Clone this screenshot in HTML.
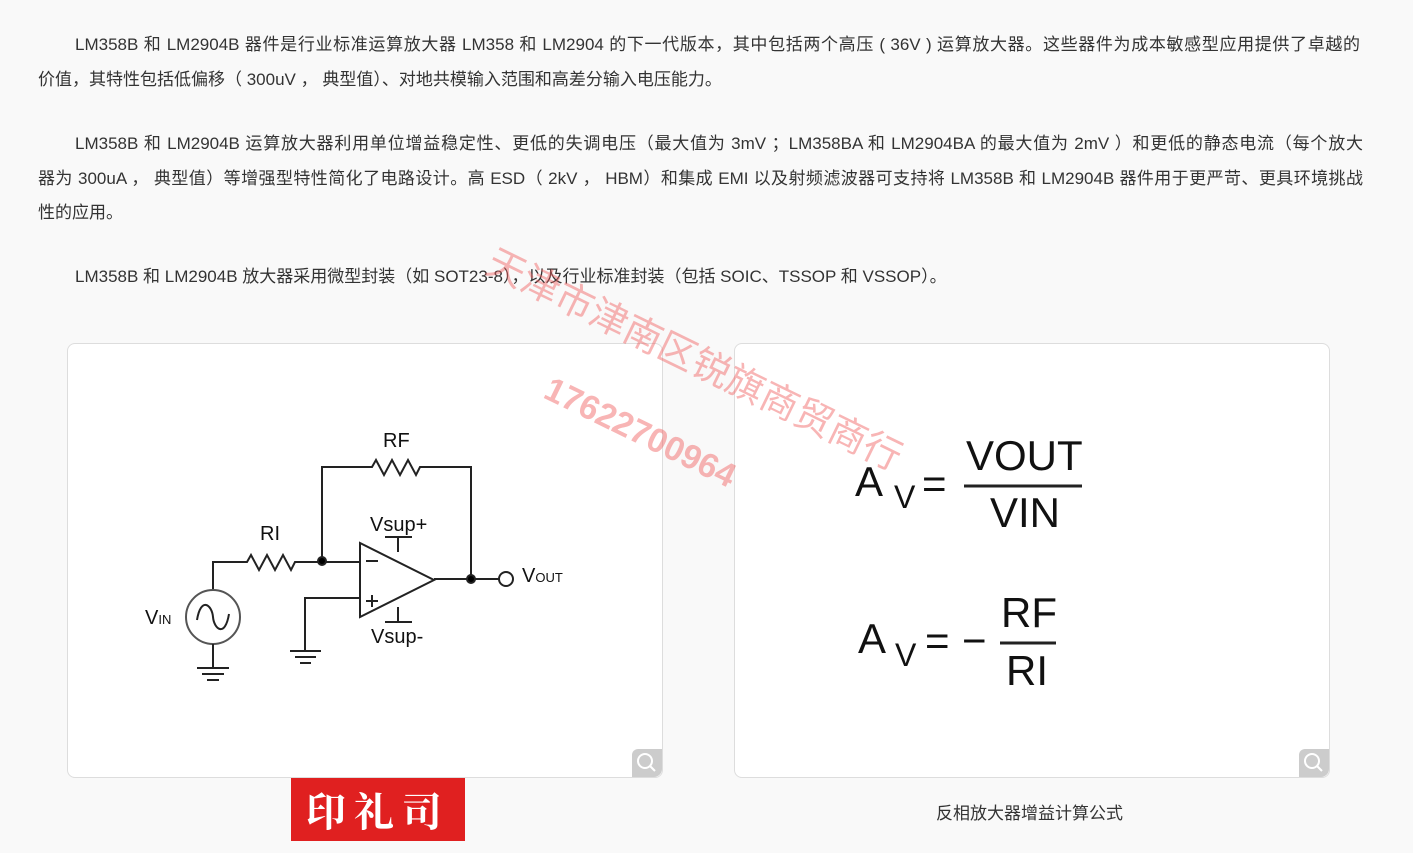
<!DOCTYPE html>
<html><head><meta charset="utf-8"><style>
body{margin:0;width:1413px;height:853px;background:#f9f9f9;position:relative;overflow:hidden;font-family:"Liberation Sans","Noto Sans CJK SC",sans-serif;color:#333}
.l{position:absolute;margin:0;font-size:17px;line-height:34px;white-space:nowrap}
.j{text-align:justify;text-align-last:justify}
.card{position:absolute;top:343px;height:433px;background:#fff;border:1px solid #ddd;border-radius:8px}
.mag{position:absolute;right:0;bottom:0;width:30px;height:28px;background:#ccc;border-radius:6px 0 8px 0}
.wm{position:absolute;color:rgba(240,90,90,0.45);font-size:38px;transform-origin:left top;white-space:nowrap}
</style></head><body>
<div class="l j" style="left:75px;width:1285px;top:28px">LM358B 和 LM2904B 器件是行业标准运算放大器 LM358 和 LM2904 的下一代版本，其中包括两个高压 ( 36V ) 运算放大器。这些器件为成本敏感型应用提供了卓越的</div>
<div class="l" style="left:38px;top:63px">价值，其特性包括低偏移（ 300uV ， 典型值）、对地共模输入范围和高差分输入电压能力。</div>
<div class="l j" style="left:75px;width:1288px;top:127px">LM358B 和 LM2904B 运算放大器利用单位增益稳定性、更低的失调电压（最大值为 3mV ；LM358BA 和 LM2904BA 的最大值为 2mV ）和更低的静态电流（每个放大</div>
<div class="l j" style="left:38px;width:1325px;top:162px">器为 300uA ， 典型值）等增强型特性简化了电路设计。高 ESD（ 2kV ， HBM）和集成 EMI 以及射频滤波器可支持将 LM358B 和 LM2904B 器件用于更严苛、更具环境挑战</div>
<div class="l" style="left:38px;top:196px">性的应用。</div>
<div class="l" style="left:75px;top:260px">LM358B 和 LM2904B 放大器采用微型封装（如 SOT23-8），以及行业标准封装（包括 SOIC、TSSOP 和 VSSOP）。</div>
<div class="card" style="left:67px;width:594px"><div class="mag"></div></div>
<div class="card" style="left:734px;width:594px"><div class="mag"></div></div>
<svg style="position:absolute;left:0;top:0" width="1413" height="853" font-family="Liberation Sans, sans-serif" fill="none" stroke="#222" stroke-width="2">
<polyline points="322,561 322,467 372,467 376,460 384,475 392,460 400,475 408,460 416,475 420,467 471,467 471,579"/>
<polyline points="213,590 213,562 247,562 251,555 259,570 267,555 275,570 283,555 291,570 295,562 360,562"/>
<polygon points="360,543 360,617 434,580"/>
<polyline points="360,598 305,598 305,650"/>
<line x1="290" y1="651" x2="321" y2="651"/><line x1="295" y1="657" x2="316" y2="657"/><line x1="300" y1="663" x2="311" y2="663"/>
<line x1="434" y1="579" x2="499" y2="579"/>
<circle cx="506" cy="579" r="7" fill="#fff"/>
<line x1="398" y1="537" x2="398" y2="552"/><line x1="385" y1="537" x2="412" y2="537"/>
<line x1="398" y1="607" x2="398" y2="622"/><line x1="385" y1="622" x2="412" y2="622"/>
<circle cx="213" cy="617" r="27" stroke="#555"/>
<path d="M197,620 C201,596 212,605 213,617 C214,629 225,638 229,614"/>
<line x1="213" y1="644" x2="213" y2="668"/>
<line x1="197" y1="668" x2="229" y2="668"/><line x1="202" y1="674" x2="224" y2="674"/><line x1="207" y1="680" x2="219" y2="680"/>
<circle cx="322" cy="561" r="4" fill="#000"/><circle cx="471" cy="579" r="4" fill="#000"/>
<line x1="366" y1="561" x2="378" y2="561"/>
<line x1="366" y1="601" x2="378" y2="601"/><line x1="372" y1="595" x2="372" y2="607"/>
<g fill="#111" stroke="none" font-size="20">
<text x="383" y="447">RF</text><text x="260" y="540">RI</text>
<text x="370" y="531">Vsup+</text><text x="371" y="643">Vsup-</text>
<text x="145" y="624">V<tspan font-size="13">IN</tspan></text>
<text x="522" y="582">V<tspan font-size="13">OUT</tspan></text>
<g font-size="42"><text x="855" y="496">A</text><text x="894" y="508" font-size="32">V</text><text x="922" y="498">=</text>
<text x="966" y="470">VOUT</text><text x="990" y="527">VIN</text>
<text x="858" y="653">A</text><text x="895" y="666" font-size="32">V</text><text x="925" y="655">=</text><text x="962" y="655">−</text>
<text x="1001" y="627">RF</text><text x="1006" y="685">RI</text></g>
</g>
<line x1="964" y1="486" x2="1082" y2="486" stroke-width="3"/>
<line x1="1000" y1="643" x2="1056" y2="643" stroke-width="3"/>
<circle cx="645" cy="761" r="7" stroke="#fff"/><line x1="650" y1="766" x2="655" y2="771" stroke="#fff"/>
<circle cx="1312" cy="761" r="7" stroke="#fff"/><line x1="1317" y1="766" x2="1322" y2="771" stroke="#fff"/>
</svg>
<div class="wm" style="left:503px;top:232px;transform:rotate(26deg)">天津市津南区锐旗商贸商行</div>
<div class="wm" style="left:555px;top:370px;transform:rotate(26deg);font-size:34px;font-weight:bold">17622700964</div>
<div style="position:absolute;left:291px;top:778px;width:174px;height:63px;background:#e02020;color:#fff;font-size:40px;font-weight:bold;text-align:center;line-height:63px;letter-spacing:8px;font-family:'Noto Serif CJK SC',serif">印礼司</div>
<div style="position:absolute;left:936px;top:799px;font-size:17px;color:#333">反相放大器增益计算公式</div>
</body></html>
